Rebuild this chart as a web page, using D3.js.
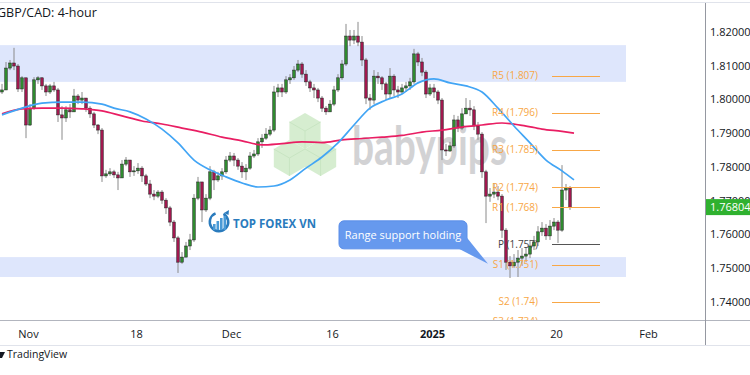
<!DOCTYPE html>
<html>
<head>
<meta charset="utf-8">
<script src="https://cdn.jsdelivr.net/npm/d3@7"></script>
<style>
  html, body { margin: 0; padding: 0; background: #fff; }
  svg { display: block; font-family: "Open Sans", sans-serif; }
</style>
</head>
<body>
<div id="chart"></div>
<script>
// GBP/CAD 4-hour, one candle per session slot (index), open = previous close
const firstOpen = 1.8022;
const closes = [
  1.8028, 1.8093, 1.8108, 1.8099, 1.8031, 1.8064, 1.7924, 1.7974, 1.8058, 1.8064,
  1.8040, 1.8022, 1.8040, 1.8028, 1.7954, 1.7945, 1.7969, 1.7963, 1.8010, 1.7998,
  1.8004, 1.7974, 1.7957, 1.7924, 1.7909, 1.7773, 1.7779, 1.7785, 1.7776, 1.7767,
  1.7808, 1.7820, 1.7785, 1.7788, 1.7796, 1.7773, 1.7749, 1.7719, 1.7713, 1.7725,
  1.7701, 1.7678, 1.7636, 1.7589, 1.7517, 1.7532, 1.7565, 1.7583, 1.7707, 1.7755,
  1.7672, 1.7707, 1.7785, 1.7761, 1.7773, 1.7785, 1.7820, 1.7832, 1.7820, 1.7802,
  1.7785, 1.7796, 1.7832, 1.7838, 1.7874, 1.7885, 1.7897, 1.7909, 1.8022, 1.8034,
  1.8022, 1.8058, 1.8064, 1.8087, 1.8105, 1.8075, 1.8052, 1.8034, 1.8028, 1.8004,
  1.7974, 1.7963, 1.7986, 1.8028, 1.8064, 1.8105, 1.8188, 1.8176, 1.8188, 1.8170,
  1.8117, 1.8004, 1.7998, 1.8069, 1.8064, 1.8046, 1.8016, 1.8069, 1.8028, 1.8022,
  1.8034, 1.8040, 1.8052, 1.8135, 1.8111, 1.8081, 1.8016, 1.8034, 1.8022, 1.7998,
  1.7850, 1.7847, 1.7862, 1.7939, 1.7915, 1.7957, 1.7974, 1.7969, 1.7921, 1.7897,
  1.7785, 1.7713, 1.7719, 1.7725, 1.7713, 1.7612, 1.7517, 1.7506, 1.7517, 1.7529,
  1.7535, 1.7541, 1.7565, 1.7577, 1.7607, 1.7618, 1.7595, 1.7624, 1.7636, 1.7612,
  1.7731, 1.7737, 1.7680
];
const highs = [
  1.8046, 1.8111, 1.8117, 1.8153, 1.8105, 1.8069, 1.8064, 1.7986, 1.8066, 1.8069,
  1.8066, 1.8046, 1.8046, 1.8052, 1.8034, 1.7980, 1.7980, 1.7986, 1.8031, 1.8016,
  1.8022, 1.8004, 1.7980, 1.7963, 1.7927, 1.7915, 1.7791, 1.7796, 1.7791, 1.7785,
  1.7820, 1.7829, 1.7820, 1.7802, 1.7811, 1.7802, 1.7779, 1.7761, 1.7731, 1.7731,
  1.7731, 1.7707, 1.7684, 1.7642, 1.7595, 1.7547, 1.7577, 1.7601, 1.7719, 1.7770,
  1.7755, 1.7719, 1.7802, 1.7791, 1.7785, 1.7796, 1.7832, 1.7844, 1.7841, 1.7826,
  1.7814, 1.7808, 1.7844, 1.7850, 1.7885, 1.7897, 1.7915, 1.7921, 1.8040, 1.8046,
  1.8046, 1.8069, 1.8075, 1.8099, 1.8117, 1.8111, 1.8087, 1.8058, 1.8046, 1.8034,
  1.8010, 1.7980, 1.7998, 1.8040, 1.8075, 1.8117, 1.8224, 1.8206, 1.8206, 1.8230,
  1.8188, 1.8123, 1.8016, 1.8087, 1.8081, 1.8069, 1.8052, 1.8093, 1.8075, 1.8040,
  1.8046, 1.8052, 1.8064, 1.8150, 1.8141, 1.8123, 1.8087, 1.8046, 1.8046, 1.8028,
  1.8004, 1.7868, 1.7874, 1.7954, 1.7951, 1.7974, 1.8004, 1.7998, 1.7980, 1.7933,
  1.7903, 1.7791, 1.7737, 1.7752, 1.7743, 1.7719, 1.7618, 1.7535, 1.7541, 1.7553,
  1.7559, 1.7559, 1.7583, 1.7595, 1.7624, 1.7636, 1.7630, 1.7642, 1.7648, 1.7642,
  1.7805, 1.7749, 1.7743
];
const lows = [
  1.8016, 1.8028, 1.8087, 1.8087, 1.8022, 1.8022, 1.7885, 1.7921, 1.7969, 1.8046,
  1.8028, 1.8010, 1.8016, 1.8022, 1.7933, 1.7880, 1.7933, 1.7945, 1.7963, 1.7986,
  1.7986, 1.7963, 1.7945, 1.7915, 1.7897, 1.7755, 1.7767, 1.7773, 1.7767, 1.7731,
  1.7767, 1.7802, 1.7770, 1.7773, 1.7779, 1.7755, 1.7743, 1.7707, 1.7701, 1.7707,
  1.7690, 1.7660, 1.7624, 1.7577, 1.7485, 1.7512, 1.7547, 1.7553, 1.7577, 1.7701,
  1.7636, 1.7666, 1.7701, 1.7731, 1.7755, 1.7761, 1.7779, 1.7814, 1.7802, 1.7791,
  1.7767, 1.7761, 1.7791, 1.7826, 1.7832, 1.7856, 1.7880, 1.7891, 1.7903, 1.8007,
  1.8007, 1.8016, 1.8046, 1.8058, 1.8081, 1.8064, 1.8040, 1.8022, 1.8004, 1.7992,
  1.7963, 1.7954, 1.7963, 1.7980, 1.8022, 1.8058, 1.8099, 1.8158, 1.8164, 1.8158,
  1.8099, 1.7986, 1.7969, 1.7986, 1.8046, 1.8028, 1.7998, 1.8004, 1.8010, 1.8004,
  1.8016, 1.8022, 1.8028, 1.8046, 1.8099, 1.8069, 1.8004, 1.8010, 1.8004, 1.7986,
  1.7820, 1.7832, 1.7844, 1.7856, 1.7903, 1.7909, 1.7957, 1.7951, 1.7909, 1.7880,
  1.7767, 1.7633, 1.7696, 1.7707, 1.7701, 1.7589, 1.7494, 1.7470, 1.7500, 1.7473,
  1.7506, 1.7517, 1.7529, 1.7553, 1.7565, 1.7595, 1.7583, 1.7583, 1.7612, 1.7574,
  1.7607, 1.7701, 1.7672
];

// moving averages, sampled at candle indices
const blueIdx = [0, 5, 10, 15, 20, 25, 28, 32, 36, 40, 44, 48, 52, 56, 60, 64, 68, 72, 76, 80, 84, 88, 92, 96, 100, 104, 108, 112, 116, 120, 124, 128, 132, 136, 140, 143];
const blueMA = [1.7954, 1.7974, 1.7989, 1.7992, 1.7992, 1.7986, 1.7974, 1.7963, 1.7942, 1.7912, 1.7871, 1.7820, 1.7791, 1.7770, 1.7752, 1.7740, 1.7743, 1.7761, 1.7796, 1.7829, 1.7871, 1.7924, 1.7974, 1.7998, 1.8016, 1.8049, 1.8061, 1.8049, 1.8040, 1.8022, 1.7974, 1.7921, 1.7871, 1.7820, 1.7788, 1.7761];
const pinkIdx = [0, 5, 10, 15, 20, 25, 30, 35, 40, 45, 50, 55, 60, 65, 70, 75, 80, 85, 90, 95, 100, 105, 110, 115, 120, 125, 130, 135, 140, 143];
const pinkMA = [1.7957, 1.7972, 1.7974, 1.7974, 1.7972, 1.7966, 1.7951, 1.7936, 1.7927, 1.7915, 1.7903, 1.7888, 1.7877, 1.7865, 1.7869, 1.7874, 1.7872, 1.7880, 1.7884, 1.7888, 1.7893, 1.7903, 1.7909, 1.7918, 1.7924, 1.7930, 1.7923, 1.7912, 1.7905, 1.7900];

const priceTicks = [1.74, 1.75, 1.76, 1.77, 1.78, 1.79, 1.80, 1.81, 1.82];
const dateLabels = ['Nov', '18', 'Dec', '16', '2025', '20', 'Feb'];
const dateIdx = [6.5, 33.5, 57.25, 82.5, 107.5, 138.5, 161.5];

const zoneTops = [1.8161, 1.7532];
const zoneBottoms = [1.8052, 1.7473];
const zoneEndIdx = 156;

const pivotNames = ['R5', 'R4', 'R3', 'R2', 'R1', 'P', 'S1', 'S2', 'S3'];
const pivotValues = [1.807, 1.796, 1.785, 1.774, 1.768, 1.757, 1.751, 1.74, 1.734];
const pivotFrom = 137.5, pivotTo = 149.5;

const lastPrice = 1.76804;
const note = { text: 'Range support holding', idx: 121.5, price: 1.7512 };

// ---------------------------------------------------------------
const width = 750, height = 375;
const plot = { left: 0, right: 705, top: 3, bottom: 320 };
const ink = '#131722';

const svg = d3.select('#chart').append('svg')
  .attr('width', width)
  .attr('height', height);

const x = d3.scaleLinear().domain([0, 142]).range([2, 570]);
const y = d3.scaleLinear().domain([1.74, 1.82]).range([301.6, 32]);

svg.append('defs').append('clipPath').attr('id', 'plot-clip')
  .append('rect')
  .attr('x', plot.left).attr('y', plot.top)
  .attr('width', plot.right - plot.left).attr('height', plot.bottom - plot.top);

const g = svg.append('g').attr('clip-path', 'url(#plot-clip)');

// range zones
g.selectAll('rect.zone')
  .data(zoneTops.map((t, i) => ({ t, b: zoneBottoms[i] })))
  .join('rect')
  .attr('class', 'zone')
  .attr('x', x(-1))
  .attr('width', x(zoneEndIdx) - x(-1))
  .attr('y', d => y(d.t))
  .attr('height', d => y(d.b) - y(d.t))
  .attr('fill', '#dee6fc');

// babypips watermark
const wm = g.append('g').attr('opacity', 0.75);
const hexR = 18;
const hexAt = (cx, cy) => d3.range(6).map(k => {
  const a = (Math.PI / 180) * (60 * k - 90);
  return [cx + hexR * Math.cos(a), cy + hexR * Math.sin(a)];
});
const cubeCenters = [[305, 131], [289.4, 158], [320.6, 158]];
cubeCenters.forEach(([cx, cy]) => {
  const p = hexAt(cx, cy);
  wm.append('polygon').attr('points', p.map(d => d.join(',')).join(' '))
    .attr('fill', '#c9e8c1');
  wm.append('path')
    .attr('d', `M${p[5][0]},${p[5][1]}L${cx},${cy}L${p[1][0]},${p[1][1]}M${cx},${cy}L${p[3][0]},${p[3][1]}`)
    .attr('stroke', '#b6dcae').attr('stroke-width', 1).attr('fill', 'none');
});
wm.append('text')
  .attr('x', 352).attr('y', 165)
  .attr('textLength', 155).attr('lengthAdjust', 'spacingAndGlyphs')
  .attr('font-family', 'Lato, sans-serif')
  .attr('font-weight', 700)
  .attr('font-size', 54)
  .attr('fill', '#c4c4c6')
  .text('babypips');

// TOP FOREX VN watermark
const tf = g.append('g');
tf.append('path')
  .attr('d', d3.arc()({ innerRadius: 8, outerRadius: 10.5, startAngle: 0.5, endAngle: 5.9 }))
  .attr('transform', 'translate(219,222)')
  .attr('fill', '#2a7bbd');
[[213, 224, 6], [216.5, 221, 9], [220, 218, 12], [223.5, 216, 14]].forEach(([bx, by, bh]) => {
  tf.append('rect').attr('x', bx).attr('y', by).attr('width', 2.6).attr('height', 230 - by)
    .attr('fill', '#4a9ad6');
});
tf.append('path').attr('d', 'M224,213 L229,210 L228.5,215 Z').attr('fill', '#2a7bbd');
tf.append('text')
  .attr('x', 233).attr('y', 228)
  .attr('font-size', 11.5).attr('font-weight', 700)
  .attr('fill', '#2a7bbd')
  .text('TOP FOREX VN');

// candles
const candles = closes.map((c, i) => ({
  i, c,
  o: i === 0 ? firstOpen : closes[i - 1],
  h: highs[i], l: lows[i]
}));

const cg = g.append('g');
cg.selectAll('line.wick').data(candles).join('line')
  .attr('x1', d => x(d.i)).attr('x2', d => x(d.i))
  .attr('y1', d => y(Math.max(d.h, d.o, d.c)))
  .attr('y2', d => y(Math.min(d.l, d.o, d.c)))
  .attr('stroke', '#8a8a8a')
  .attr('stroke-width', 1);
cg.selectAll('rect.body').data(candles).join('rect')
  .attr('x', d => x(d.i) - 1.3)
  .attr('width', 2.6)
  .attr('y', d => y(Math.max(d.o, d.c)))
  .attr('height', d => Math.max(0.8, Math.abs(y(d.o) - y(d.c))))
  .attr('fill', d => d.c >= d.o ? '#2f8a2f' : '#a0184e')
  .attr('stroke', '#1e1e1e')
  .attr('stroke-width', 0.5);

// moving averages
const maLine = d3.line().x(d => x(d[0])).y(d => y(d[1])).curve(d3.curveMonotoneX);
g.append('path')
  .datum(pinkIdx.map((d, i) => [d, pinkMA[i]]))
  .attr('d', maLine)
  .attr('fill', 'none').attr('stroke', '#e91e63').attr('stroke-width', 1.7);
g.append('path')
  .datum(blueIdx.map((d, i) => [d, blueMA[i]]))
  .attr('d', maLine)
  .attr('fill', 'none').attr('stroke', '#42a5f5').attr('stroke-width', 1.7);

// pivot levels
const pivots = pivotNames.map((n, i) => ({ n, v: pivotValues[i] }));
const pg = g.append('g');
pg.selectAll('line').data(pivots).join('line')
  .attr('x1', x(pivotFrom)).attr('x2', x(pivotTo))
  .attr('y1', d => Math.round(y(d.v)) + 0.5).attr('y2', d => Math.round(y(d.v)) + 0.5)
  .attr('stroke', d => d.n === 'P' ? '#555555' : '#f8a746')
  .attr('stroke-width', 1);
pg.selectAll('text').data(pivots).join('text')
  .attr('x', x(pivotFrom) - 14)
  .attr('y', d => y(d.v))
  .attr('dy', '0.35em')
  .attr('text-anchor', 'end')
  .attr('font-size', 10)
  .attr('fill', d => d.n === 'P' ? '#444444' : '#f8a746')
  .text(d => `${d.n} (${d.v})`);

// callout
const tipX = x(note.idx), tipY = y(note.price);
const cl = g.append('g').attr('transform', `translate(${tipX},${tipY})`);
cl.append('rect')
  .attr('x', -149).attr('y', -43).attr('width', 128).attr('height', 28).attr('rx', 5)
  .attr('fill', '#6699ee').attr('stroke', '#5b8ee8');
cl.append('path')
  .attr('d', 'M-31,-16 L0,0 L-21,-26 Z')
  .attr('fill', '#6699ee');
cl.append('text')
  .attr('x', -85).attr('y', -29).attr('dy', '0.35em')
  .attr('text-anchor', 'middle')
  .attr('font-size', 11)
  .attr('fill', '#ffffff')
  .text(note.text);

// frame lines
svg.append('line').attr('x1', 0).attr('x2', width).attr('y1', 2.5).attr('y2', 2.5).attr('stroke', '#e0e3eb');
svg.append('line').attr('x1', 0).attr('x2', width).attr('y1', plot.bottom + 0.5).attr('y2', plot.bottom + 0.5).attr('stroke', '#b2b5be');
svg.append('line').attr('x1', 0).attr('x2', width).attr('y1', 345.5).attr('y2', 345.5).attr('stroke', '#e0e3eb');
svg.append('line').attr('x1', plot.right + 0.5).attr('x2', plot.right + 0.5).attr('y1', 3).attr('y2', 345).attr('stroke', '#9598a1');

// price axis
const yAxis = svg.append('g')
  .attr('transform', `translate(${plot.right},0)`)
  .call(d3.axisRight(y).tickValues(priceTicks).tickFormat(d3.format('.5f')).tickSize(0).tickPadding(5));
yAxis.select('.domain').remove();
yAxis.attr('font-family', '"Open Sans", sans-serif').attr('font-size', 11);
yAxis.selectAll('text').attr('fill', ink);

// time axis
const xAxis = svg.append('g')
  .attr('transform', `translate(0,${plot.bottom})`)
  .call(d3.axisBottom(x).tickValues(dateIdx).tickFormat((d, i) => dateLabels[i]).tickSize(0).tickPadding(10));
xAxis.select('.domain').remove();
xAxis.attr('font-family', '"Open Sans", sans-serif').attr('font-size', 11);
xAxis.selectAll('text').attr('fill', ink)
  .attr('font-weight', (d, i) => dateLabels[i] === '2025' ? 700 : 400);

// last price tag
svg.append('rect')
  .attr('x', plot.right + 1).attr('y', y(lastPrice) - 8)
  .attr('width', width - plot.right).attr('height', 16)
  .attr('fill', '#2fb12f');
svg.append('text')
  .attr('x', plot.right + 5).attr('y', y(lastPrice)).attr('dy', '0.35em')
  .attr('font-size', 11).attr('fill', '#ffffff')
  .text(d3.format('.5f')(lastPrice));

// title
svg.append('text')
  .attr('x', -3).attr('y', 17)
  .attr('font-size', 12.5).attr('fill', ink)
  .text('GBP/CAD: 4-hour');

// footer
svg.append('path').attr('d', 'M0,352 L5,352 L2,358 L0,358 Z').attr('fill', ink);
svg.append('text')
  .attr('x', 7).attr('y', 358)
  .attr('font-size', 10.5).attr('fill', ink)
  .text('TradingView');
</script>
</body>
</html>
